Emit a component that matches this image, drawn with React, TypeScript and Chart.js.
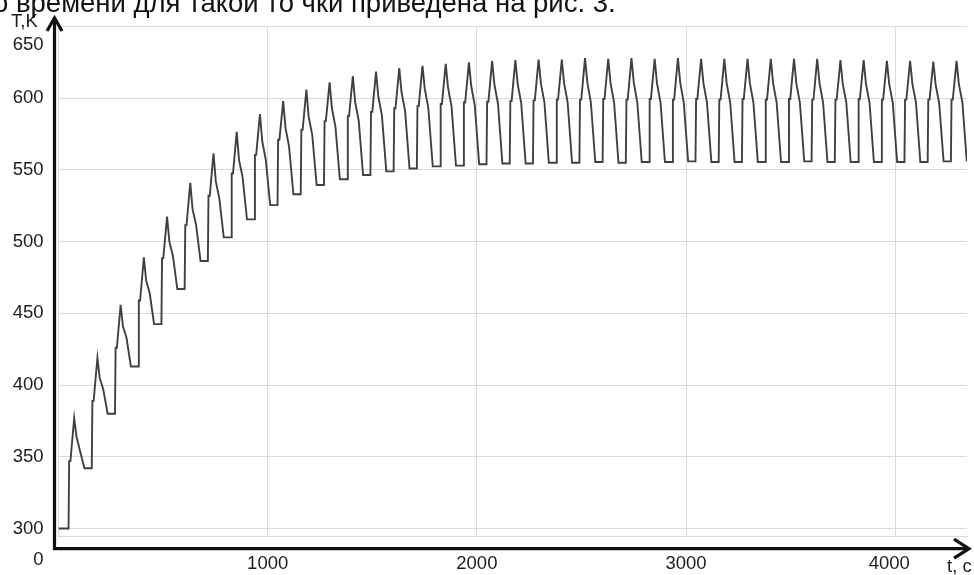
import React, { useEffect, useRef } from 'react';
import { Chart, registerables } from 'chart.js';

Chart.register(...registerables);

// ---- data ----
const initialT = 300;
const cycleStart = [
  48, 159, 270, 381, 492, 603, 714, 825, 936, 1047, 1158, 1269, 1380,
  1491, 1602, 1713, 1824, 1935, 2046, 2157, 2268, 2379, 2490, 2601, 2712,
  2823, 2934, 3045, 3156, 3267, 3378, 3489, 3600, 3711, 3822, 3933, 4044,
  4155, 4266,
];
const shoulderT = [
  347, 389, 426, 459, 488.5, 511.5, 532, 547.5, 560.5, 571, 578, 584, 587.5,
  590.5, 593, 594.5, 596, 597, 597.5, 598, 598.5, 599, 599, 599.5, 599,
  599.5, 599, 599.5, 599, 599.5, 599, 599.5, 599, 599, 599.5, 599, 599,
  599, 599,
];
const peakT = [
  377, 419, 456, 489, 517.5, 541, 561.5, 576.5, 589, 598, 606, 611, 615.5,
  618.5, 621, 622.5, 624, 625, 626, 626.5, 627, 627, 628, 627.5, 628,
  627.5, 628, 627.5, 627.5, 627.5, 627.5, 627.5, 627.5, 626.5, 626.5, 626, 626,
  625.5, 626,
];
const knee1T = [
  364, 405, 441, 473, 500, 522.5, 542, 557, 570, 579.5, 587, 593, 597.5,
  601, 604, 606.5, 607.5, 608.5, 609.5, 610, 610.5, 610.5, 611, 610.5, 611,
  610.5, 611, 610.5, 610.5, 610.5, 610.5, 610.5, 610.5, 610, 610, 610, 610,
  609.5, 610,
];
const knee2T = [
  354, 397, 433, 464, 490, 511.5, 530, 545, 557, 566.5, 574.5, 580, 584.5,
  588, 591, 593, 594, 595, 596, 596.5, 597, 597, 597, 597, 597,
  597, 597, 597, 597, 597, 597, 597, 597, 597, 597, 597, 597,
  596.5, 597,
];
const troughT = [
  342, 380, 413, 442.5, 467, 486.5, 503, 515.5, 525.5, 533, 539.5, 543.5, 546.5,
  549, 551, 552.5, 553, 554, 554.5, 554.5, 555, 555, 555.5, 555, 555.5,
  555.5, 556, 555.5, 555.5, 555.5, 555.5, 556, 555.5, 555.5, 555.5, 555.5, 555.5,
  556, 556,
];
// seconds after each cycle start: rise, shoulder start, shoulder end, peak, knee1, knee2, bottom
const cycleOffsets = [0, 3, 9, 27, 38, 55, 76];

const xTicks = [1000, 2000, 3000, 4000];
const yTicks = [300, 350, 400, 450, 500, 550, 600, 650];
const X_MIN = 0;
const X_MAX = 4343;
const Y_MIN = 294.3;
const Y_MAX = 650;

const headText = 'о времени для такой то чки приведена на рис. 3.';
const yTitle = 'T,K';
const xTitle = 't, c';
const originLabel = '0';

function buildPoints() {
  const pts: { x: number; y: number }[] = [{ x: X_MIN, y: initialT }];
  let prev = initialT;
  cycleStart.forEach((s, i) => {
    const vals = [prev, shoulderT[i], shoulderT[i], peakT[i], knee1T[i], knee2T[i], troughT[i]];
    cycleOffsets.forEach((o, k) => pts.push({ x: s + o, y: vals[k] }));
    prev = troughT[i];
  });
  return pts;
}

const FONT = '"Liberation Sans", Arial, sans-serif';
const GRID = '#dadada';

const overlay = {
  id: 'overlay',
  afterDraw(chart: any) {
    const { ctx, chartArea } = chart;
    const xs = chart.scales.x;
    const ys = chart.scales.y;
    ctx.save();

    // axes with arrows
    const axX = chartArea.left - 4;
    const axY = chartArea.bottom + 12;
    const topTip = chartArea.top - 8.5;
    const rightTip = chartArea.right + 2;
    ctx.strokeStyle = '#111';
    ctx.lineWidth = 3.2;
    ctx.lineCap = 'butt';
    ctx.lineJoin = 'miter';
    ctx.beginPath();
    ctx.moveTo(axX, axY + 1.5);
    ctx.lineTo(axX, topTip + 2);
    ctx.moveTo(axX - 1.5, axY);
    ctx.lineTo(rightTip - 2, axY);
    ctx.stroke();
    ctx.beginPath();
    ctx.moveTo(axX - 7.5, topTip + 13);
    ctx.lineTo(axX, topTip);
    ctx.lineTo(axX + 7.5, topTip + 13);
    ctx.moveTo(rightTip - 15, axY - 9.5);
    ctx.lineTo(rightTip, axY);
    ctx.lineTo(rightTip - 15, axY + 9.5);
    ctx.stroke();

    ctx.fillStyle = '#1c1c1c';
    ctx.font = `18.5px ${FONT}`;
    // y tick labels
    ctx.textAlign = 'right';
    ctx.textBaseline = 'middle';
    yTicks.forEach((v) => {
      const y = ys.getPixelForValue(v) + (v === Y_MAX ? 18.5 : 0);
      ctx.fillText(String(v), chartArea.left - 15, y);
    });
    // x tick labels
    ctx.textAlign = 'center';
    xTicks.forEach((v, i) => {
      const x = xs.getPixelForValue(v) - (i === xTicks.length - 1 ? 6 : 0);
      ctx.fillText(String(v), x, chartArea.bottom + 27.5);
    });
    ctx.fillText(originLabel, chartArea.left - 20, chartArea.bottom + 23.5);
    // axis titles
    ctx.textAlign = 'left';
    ctx.fillText(yTitle, 11, chartArea.top - 5);
    ctx.fillText(xTitle, chartArea.right - 20, chartArea.bottom + 30.5);

    // cut-off heading text from the page above
    ctx.font = `27.5px ${FONT}`;
    ctx.textBaseline = 'alphabetic';
    ctx.fillStyle = '#111';
    ctx.fillText(headText, -7, 12);
    ctx.restore();
  },
};

export default function App() {
  const ref = useRef<HTMLCanvasElement | null>(null);
  useEffect(() => {
    document.body.style.margin = '0';
    const canvas = ref.current!;
    const chart = new Chart(canvas, {
      type: 'line',
      data: {
        datasets: [
          {
            data: buildPoints(),
            borderColor: '#404040',
            borderWidth: 1.9,
            pointRadius: 0,
            tension: 0,
            fill: false,
          },
        ],
      },
      options: {
        responsive: false,
        animation: false,
        events: [],
        layout: { padding: { left: 58.5, right: 7, top: 26.5, bottom: 38.3 } },
        plugins: { legend: { display: false }, tooltip: { enabled: false }, title: { display: false } },
        scales: {
          x: {
            type: 'linear',
            min: X_MIN,
            max: X_MAX,
            afterBuildTicks: (s: any) => { s.ticks = xTicks.map((v) => ({ value: v })); },
            ticks: { display: false },
            grid: { color: GRID, lineWidth: 1, drawTicks: false },
            border: { display: true, color: GRID, width: 1 },
          },
          y: {
            type: 'linear',
            min: Y_MIN,
            max: Y_MAX,
            afterBuildTicks: (s: any) => { s.ticks = yTicks.map((v) => ({ value: v })); },
            ticks: { display: false },
            grid: { color: GRID, lineWidth: 1, drawTicks: false },
            border: { display: true, color: GRID, width: 1 },
          },
        },
      },
      plugins: [overlay],
    });
    return () => chart.destroy();
  }, []);
  return (
    <div style={{ position: 'absolute', left: 0, top: 0, width: 974, height: 575, background: '#fff' }}>
      <canvas ref={ref} width={974} height={575} style={{ display: 'block' }} />
    </div>
  );
}
